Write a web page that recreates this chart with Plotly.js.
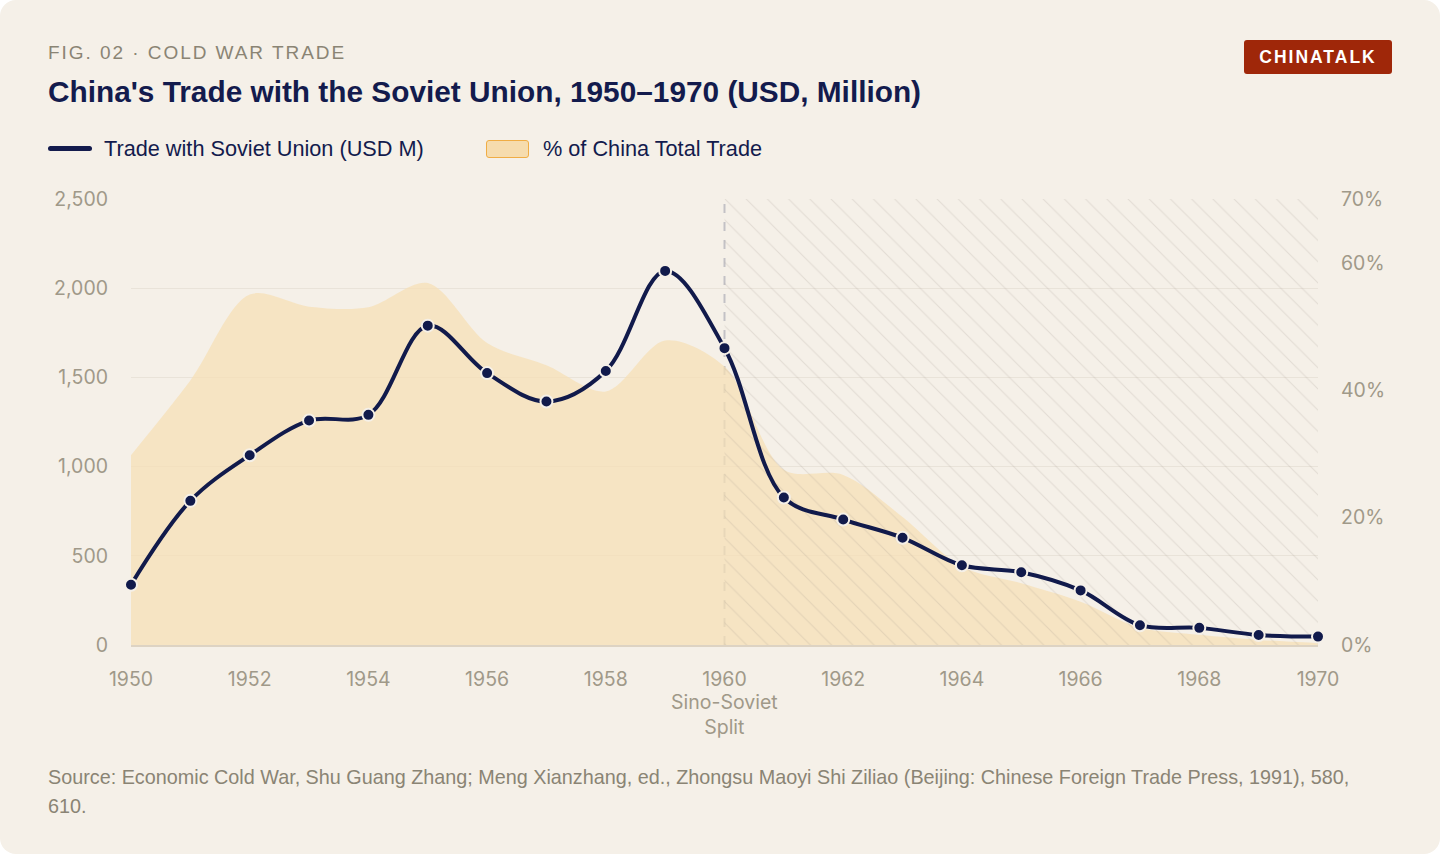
<!DOCTYPE html>
<html>
<head>
<meta charset="utf-8">
<script src="https://cdn.plot.ly/plotly-3.0.1.min.js"></script>
<style>
  html, body { margin:0; padding:0; background:#ffffff; }
  #card { position:relative; width:1440px; height:854px; background:#f5f0e8; border-radius:16px; overflow:hidden; font-family:"Liberation Sans", Arial, sans-serif; }
  #kicker { position:absolute; left:48px; top:42px; font-size:19px; letter-spacing:1.95px; color:#8a8474; }
  #title { position:absolute; left:48px; top:75px; font-size:29.8px; font-weight:bold; color:#131b4d; }
  #badge { position:absolute; left:1244px; top:40px; width:148px; height:34px; background:#9f2709; border-radius:3px; color:#fff; font-weight:bold; font-size:17.5px; letter-spacing:2px; text-align:center; line-height:34px; }
  #legend { position:absolute; left:48px; top:136px; font-size:21.7px; color:#131b4d; }
  .li { position:absolute; white-space:nowrap; top:0; }
  .sw-line { position:absolute; left:0; top:10px; width:44px; height:5px; border-radius:3px; background:#131b4d; }
  .sw-area { position:absolute; left:438px; top:4px; width:41px; height:16px; border-radius:3px; background:#f6dcae; border:1.5px solid #f0ad45; }
  #source { position:absolute; left:48px; top:763px; width:1330px; font-size:19.8px; line-height:29px; color:#8a8474; }
  #plot { position:absolute; left:0; top:0; width:1440px; height:854px; }
</style>
</head>
<body>
<div id="card">
  <div id="plot"></div>
  <div id="kicker">FIG. 02 · COLD WAR TRADE</div>
  <div id="title">China's Trade with the Soviet Union, 1950–1970 (USD, Million)</div>
  <div id="badge">CHINATALK</div>
  <div id="legend">
    <span class="sw-line"></span><span class="li" style="left:56px;">Trade with Soviet Union (USD M)</span>
    <span class="sw-area"></span><span class="li" style="left:495px;">% of China Total Trade</span>
  </div>
  <div id="source">Source: Economic Cold War, Shu Guang Zhang; Meng Xianzhang, ed., Zhongsu Maoyi Shi Ziliao (Beijing: Chinese Foreign Trade Press, 1991), 580, 610.</div>
</div>
<script>
const years = [1950,1951,1952,1953,1954,1955,1956,1957,1958,1959,1960,1961,1962,1963,1964,1965,1966,1967,1968,1969,1970];
const tradeUSD = [338,808,1064,1258,1290,1790,1524,1365,1536,2097,1664,827,703,601,447,408,306,111,96,56,47];
const pctTotal = [29.8,41.5,55,53.1,53,56.8,47.4,43.9,39.8,47.8,43.7,27.5,26.7,20.1,12.3,9.7,6.8,2.7,1.6,0.8,0.3];
const xTicks = [1950,1952,1954,1956,1958,1960,1962,1964,1966,1968,1970];
const usdTicks = [0,500,1000,1500,2000,2500];
const usdTickText = ['0','500','1,000','1,500','2,000','2,500'];
const pctTicks = [0,20,40,60,70];
const pctTickText = ['0%','20%','40%','60%','70%'];
const splitYear = 1960;
const splitLabel = 'Sino-Soviet<br>Split';
const endYear = 1970;
const pctMax = 70, usdMax = 2500;

const tickFont = {family:'Inter, "Liberation Sans", sans-serif', size:19.5, color:'#a09989'};

const traces = [
  { x: years, y: pctTotal, yaxis:'y', type:'scatter', mode:'lines',
    line:{width:0, shape:'spline', smoothing:0.9, color:'rgba(0,0,0,0)'},
    fill:'tozeroy', fillcolor:'rgba(247,223,180,0.72)', hoverinfo:'skip', showlegend:false },
  { x: [splitYear, endYear, endYear, splitYear], y: [0, 0, pctMax, pctMax], yaxis:'y', type:'scatter', mode:'lines',
    line:{width:0, color:'rgba(0,0,0,0)'}, fill:'toself', fillcolor:'rgba(0,0,0,0)',
    fillpattern:{shape:'\\', fgcolor:'rgba(150,140,128,0.2)', bgcolor:'rgba(0,0,0,0)', size:15, solidity:0.07},
    hoverinfo:'skip', showlegend:false },
  { x: years, y: tradeUSD, yaxis:'y2', type:'scatter', mode:'lines+markers',
    line:{width:4, color:'#111a4b', shape:'spline', smoothing:1},
    marker:{size:12, color:'#111a4b', line:{color:'#f5f0e8', width:2}},
    cliponaxis:false, showlegend:false }
];

const layout = {
  width:1440, height:854,
  paper_bgcolor:'rgba(0,0,0,0)', plot_bgcolor:'rgba(0,0,0,0)',
  margin:{l:131, r:122, t:199, b:209},
  showlegend:false,
  xaxis:{range:[1950,1970], tickvals:xTicks, ticks:'', showgrid:false, zeroline:false,
         showline:true, linecolor:'#ddd3c3', linewidth:1.5, tickfont:tickFont, ticklabelstandoff:16, fixedrange:true},
  yaxis:{range:[0,pctMax], side:'right', tickvals:pctTicks, ticktext:pctTickText, showgrid:false, zeroline:false,
         tickfont:tickFont, ticklabelstandoff:22, ticks:'', fixedrange:true},
  yaxis2:{range:[0,usdMax], overlaying:'y', side:'left', tickvals:usdTicks, ticktext:usdTickText, showgrid:true,
          gridcolor:'#e9e3d9', gridwidth:1, zeroline:false, tickfont:tickFont, ticklabelstandoff:22, ticks:'', fixedrange:true},
  shapes:[{type:'line', xref:'x', yref:'paper', x0:splitYear, x1:splitYear, y0:0, y1:1,
           line:{color:'#c3c1c5', width:2, dash:'dash'}, layer:'below'}],
  annotations:[{xref:'x', yref:'paper', x:splitYear, y:0, yanchor:'top', yshift:-43, showarrow:false,
                text:splitLabel, font:tickFont, align:'center'}]
};

Plotly.newPlot('plot', traces, layout, {displayModeBar:false, staticPlot:true});
</script>
</body>
</html>
